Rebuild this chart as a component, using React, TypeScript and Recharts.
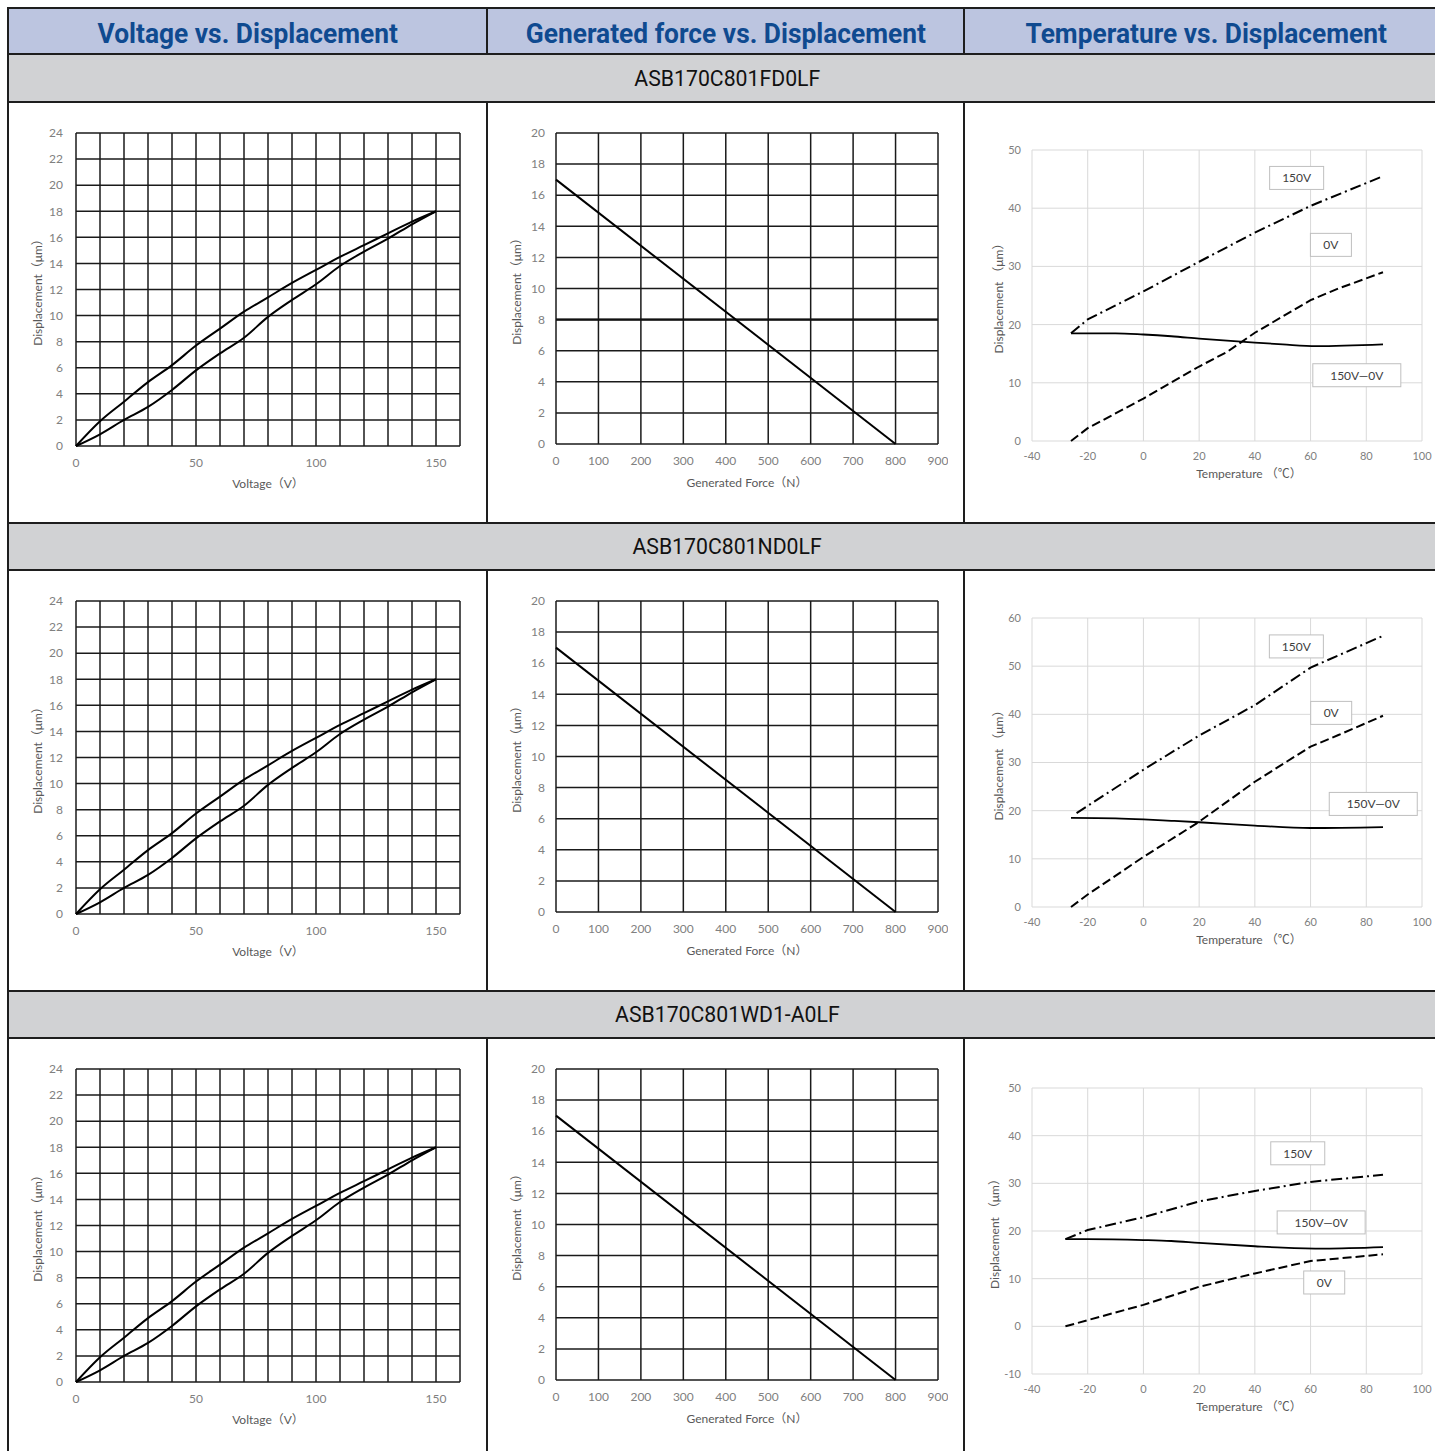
import React from 'react';
import { LineChart, Line, XAxis, YAxis, CartesianGrid, ReferenceDot, ReferenceLine } from 'recharts';

// ---------- text ----------
const columnTitles = ['Voltage vs. Displacement', 'Generated force vs. Displacement', 'Temperature vs. Displacement'];
const modelNames = ['ASB170C801FD0LF', 'ASB170C801ND0LF', 'ASB170C801WD1-A0LF'];

// ---------- Voltage vs. Displacement ----------
const voltageSteps = [0, 10, 20, 30, 40, 50, 60, 70, 80, 90, 100, 110, 120, 130, 140, 150];
const displacementDescending = [0, 1.9, 3.4, 4.9, 6.2, 7.7, 9.0, 10.3, 11.4, 12.5, 13.5, 14.5, 15.4, 16.3, 17.2, 18.0];
const displacementAscending = [0, 0.9, 2.0, 3.0, 4.3, 5.8, 7.1, 8.3, 9.9, 11.2, 12.4, 13.8, 14.9, 15.9, 17.0, 18.0];
const voltageTicks = [0, 10, 20, 30, 40, 50, 60, 70, 80, 90, 100, 110, 120, 130, 140, 150, 160];
const voltageLabeledTicks = [0, 50, 100, 150];
const voltageDispTicks = [0, 2, 4, 6, 8, 10, 12, 14, 16, 18, 20, 22, 24];

// ---------- Generated force vs. Displacement ----------
const forceValues = [0, 800];
const forceDisplacement = [17, 0];
const forceTicks = [0, 100, 200, 300, 400, 500, 600, 700, 800, 900];
const forceDispTicks = [0, 2, 4, 6, 8, 10, 12, 14, 16, 18, 20];
const forceHeavyGridRows = [true, false, false];

// ---------- Temperature vs. Displacement ----------
const temperatureTicks = [-40, -20, 0, 20, 40, 60, 80, 100];

// FD0LF
const fdTemp150V = [-26, -20, 0, 20, 40, 60, 86];
const fdDisp150V = [18.5, 20.9, 25.7, 30.8, 35.8, 40.4, 45.5];
const fdTemp0V = [-26, -20, 0, 20, 30, 40, 60, 70, 86];
const fdDisp0V = [0, 2.2, 7.3, 12.8, 15.3, 18.6, 24.2, 26.2, 29.0];
const fdTempDiff = [-26, -10, 0, 10, 20, 40, 50, 62, 86];
const fdDispDiff = [18.5, 18.5, 18.3, 18.0, 17.6, 16.9, 16.6, 16.3, 16.6];
const fdDispTicks = [0, 10, 20, 30, 40, 50];
const fdNotes = [
  { text: '150V', t: 55, d: 45.2 },
  { text: '0V', t: 67.3, d: 33.7 },
  { text: '150V—0V', t: 76.6, d: 11.3 },
];

// ND0LF
const ndTemp150V = [-24, -20, 0, 20, 40, 60, 86];
const ndDisp150V = [19.5, 21.0, 28.5, 35.6, 41.9, 49.7, 56.3];
const ndTemp0V = [-26, -20, 0, 20, 40, 60, 70, 86];
const ndDisp0V = [0, 2.6, 10.4, 17.7, 26.0, 33.3, 35.7, 39.7];
const ndTempDiff = [-26, -10, 0, 10, 20, 40, 60, 86];
const ndDispDiff = [18.5, 18.4, 18.2, 17.9, 17.6, 16.9, 16.4, 16.6];
const ndDispTicks = [0, 10, 20, 30, 40, 50, 60];
const ndNotes = [
  { text: '150V', t: 54.9, d: 54.1 },
  { text: '0V', t: 67.4, d: 40.3 },
  { text: '150V—0V', t: 82.5, d: 21.4 },
];

// WD1-A0LF
const wdTemp150V = [-28, -20, 0, 20, 40, 60, 86];
const wdDisp150V = [18.3, 20.2, 22.9, 26.2, 28.4, 30.3, 31.8];
const wdTemp0V = [-28, -20, 0, 20, 40, 60, 86];
const wdDisp0V = [0, 1.3, 4.5, 8.3, 11.1, 13.7, 15.1];
const wdTempDiff = [-28, -20, 0, 10, 20, 40, 50, 65, 86];
const wdDispDiff = [18.3, 18.3, 18.1, 17.9, 17.5, 16.8, 16.5, 16.3, 16.6];
const wdDispTicks = [-10, 0, 10, 20, 30, 40, 50];
const wdNotes = [
  { text: '150V', t: 55.4, d: 36.3 },
  { text: '150V—0V', t: 63.8, d: 21.8 },
  { text: '0V', t: 64.9, d: 9.2 },
];

// ---------- styles ----------
const FONT = "Lato, 'Noto Sans CJK JP', sans-serif";
const tickStyle = { fontSize: 12, fill: '#808080', fontFamily: FONT };
const tempTickStyle = { fontSize: 11, fill: '#808080', fontFamily: FONT };
const titleStyle: React.CSSProperties = { fontSize: 12, fill: '#595959', fontFamily: FONT };
const ROW_STEP = 468;

const zip = (ts: number[], ds: number[]) => ts.map((t, i) => ({ t, d: ds[i] }));

const xTitle = (text: string, fromBottom: number, dx = 0) => ({
  content: (p: any) => {
    const vb = p.viewBox || {};
    return (
      <text x={vb.x + vb.width / 2 + dx} y={vb.y + vb.height - fromBottom} textAnchor="middle" style={titleStyle}>
        {text}
      </text>
    );
  },
});

const yTitle = (text: string, fromLeft: number) => ({
  content: (p: any) => {
    const vb = p.viewBox || {};
    const x = vb.x + fromLeft;
    const y = vb.y + vb.height / 2;
    return (
      <text x={x} y={y} transform={`rotate(-90 ${x} ${y})`} textAnchor="middle" dominantBaseline="central" style={titleStyle}>
        {text}
      </text>
    );
  },
});

const noteWidths: Record<string, number> = { '150V': 54, '0V': 41, '150V—0V': 88 };

function NoteBox({ cx, cy, text }: { cx: number; cy: number; text: string }) {
  const w = noteWidths[text] || 60;
  const h = 23;
  return (
    <g>
      <rect x={cx - w / 2} y={cy - h / 2} width={w} height={h} fill="#fff" stroke="#bfbfbf" strokeWidth={1} />
      <text x={cx} y={cy} textAnchor="middle" dominantBaseline="central" style={{ fontSize: 12, fill: '#404040', fontFamily: FONT }}>
        {text}
      </text>
    </g>
  );
}

function VoltageChart({ row }: { row: number }) {
  const data = voltageSteps.map((v, i) => ({ v, desc: displacementDescending[i], asc: displacementAscending[i] }));
  return (
    <div style={{ position: 'absolute', left: 20, top: 118 + row * ROW_STEP }}>
      <LineChart width={450} height={378} data={data} margin={{ top: 15, right: 10, left: 0, bottom: 0 }}>
        <CartesianGrid stroke="#1a1a1a" strokeWidth={1.5} />
        <XAxis
          dataKey="v"
          type="number"
          domain={[0, 160]}
          ticks={voltageTicks}
          interval={0}
          tickFormatter={(v: number) => (voltageLabeledTicks.includes(v) ? String(v) : '')}
          axisLine={false}
          tickLine={false}
          tickSize={0}
          tickMargin={12}
          height={50}
          tick={tickStyle}
          label={xTitle('Voltage（V）', 8)}
        />
        <YAxis
          type="number"
          domain={[0, 24]}
          ticks={voltageDispTicks}
          interval={0}
          width={56}
          axisLine={false}
          tickLine={false}
          tickSize={0}
          tickMargin={13}
          tick={tickStyle}
          label={yTitle('Displacement（μm）', 17)}
        />
        <Line type="monotone" dataKey="desc" stroke="#000" strokeWidth={2} dot={false} isAnimationActive={false} />
        <Line type="monotone" dataKey="asc" stroke="#000" strokeWidth={2} dot={false} isAnimationActive={false} />
      </LineChart>
    </div>
  );
}

function ForceChart({ row }: { row: number }) {
  const data = forceValues.map((f, i) => ({ f, d: forceDisplacement[i] }));
  return (
    <div style={{ position: 'absolute', left: 500, top: 118 + row * ROW_STEP }}>
      <LineChart width={448} height={376} data={data} margin={{ top: 15, right: 10, left: 0, bottom: 0 }}>
        <CartesianGrid stroke="#1a1a1a" strokeWidth={1.5} />
        {forceHeavyGridRows[row] && <ReferenceLine y={8} stroke="#111" strokeWidth={2.4} />}
        <XAxis
          dataKey="f"
          type="number"
          domain={[0, 900]}
          ticks={forceTicks}
          interval={0}
          axisLine={false}
          tickLine={false}
          tickSize={0}
          tickMargin={12}
          height={50}
          tick={tickStyle}
          label={xTitle('Generated Force（N）', 7)}
        />
        <YAxis
          type="number"
          domain={[0, 20]}
          ticks={forceDispTicks}
          interval={0}
          width={56}
          axisLine={false}
          tickLine={false}
          tickSize={0}
          tickMargin={11}
          tick={tickStyle}
          label={yTitle('Displacement（μm）', 16)}
        />
        <Line dataKey="d" stroke="#000" strokeWidth={2} dot={false} isAnimationActive={false} />
      </LineChart>
    </div>
  );
}

type TempProps = {
  top: number;
  height: number;
  yTicks: number[];
  s150: { t: number; d: number }[];
  s0: { t: number; d: number }[];
  sDiff: { t: number; d: number }[];
  notes: { text: string; t: number; d: number }[];
  yLabelX: number;
};

function TempChart({ top, height, yTicks, s150, s0, sDiff, notes, yLabelX }: TempProps) {
  return (
    <div style={{ position: 'absolute', left: 976, top }}>
      <LineChart width={456} height={height} margin={{ top: 15, right: 10, left: 0, bottom: 0 }}>
        <CartesianGrid stroke="#d9d9d9" strokeWidth={1} />
        <XAxis
          dataKey="t"
          type="number"
          domain={[-40, 100]}
          ticks={temperatureTicks}
          interval={0}
          axisLine={false}
          tickLine={false}
          tickSize={0}
          tickMargin={11}
          height={50}
          tick={tempTickStyle}
          allowDuplicatedCategory={false}
          label={xTitle('Temperature （℃）', 13, 22)}
        />
        <YAxis
          dataKey="d"
          type="number"
          domain={[yTicks[0], yTicks[yTicks.length - 1]]}
          ticks={yTicks}
          interval={0}
          width={56}
          axisLine={false}
          tickLine={false}
          tickSize={0}
          tickMargin={11}
          tick={tempTickStyle}
          label={yTitle('Displacement （μm）', yLabelX)}
        />
        <Line data={s150} dataKey="d" stroke="#000" strokeWidth={2} strokeDasharray="11 4 2 4" dot={false} isAnimationActive={false} />
        <Line data={s0} dataKey="d" stroke="#000" strokeWidth={2} strokeDasharray="9 4" dot={false} isAnimationActive={false} />
        <Line type="monotone" data={sDiff} dataKey="d" stroke="#000" strokeWidth={1.8} dot={false} isAnimationActive={false} />
        {notes.map((n) => (
          <ReferenceDot
            key={n.text}
            x={n.t}
            y={n.d}
            r={0}
            ifOverflow="visible"
            shape={(p: any) => <NoteBox cx={p.cx} cy={p.cy} text={n.text} />}
          />
        ))}
      </LineChart>
    </div>
  );
}

const BORDER = '#1e1e1e';
const hLines = [7, 53, 101, 522, 569, 990, 1037];
const grayTops = [55, 524, 992];
const colBorders = [7, 486, 963];
const chartBands = [
  [103, 522],
  [571, 990],
  [1039, 1451],
];
const headerCols = [
  [9, 486],
  [488, 963],
  [965, 1447],
];

export default function App() {
  return (
    <div style={{ position: 'absolute', left: 0, top: 0, width: 1435, height: 1451, overflow: 'hidden', background: '#fff' }}>
      {/* header band */}
      <div style={{ position: 'absolute', left: 9, top: 9, width: 1440, height: 44, background: '#bcc5e0' }} />
      {headerCols.map(([a, b], i) => (
        <div
          key={'h' + i}
          style={{
            position: 'absolute',
            left: a,
            top: 11,
            width: b - a,
            height: 44,
            display: 'flex',
            alignItems: 'center',
            justifyContent: 'center',
          }}
        >
          <span
            style={{
              fontFamily: 'Roboto, sans-serif',
              fontWeight: 700,
              fontSize: 28,
              color: '#0f4a90',
              whiteSpace: 'nowrap',
              display: 'inline-block',
              transform: 'scaleX(0.94)',
            }}
          >
            {columnTitles[i]}
          </span>
        </div>
      ))}
      {/* gray rows */}
      {grayTops.map((t, i) => (
        <div
          key={'g' + i}
          style={{
            position: 'absolute',
            left: 9,
            top: t,
            width: 1436,
            height: hLines[[2, 4, 6][i]] - t,
            background: '#d1d2d4',
            display: 'flex',
            alignItems: 'center',
            justifyContent: 'center',
          }}
        >
          <span
            style={{
              fontFamily: 'Roboto, sans-serif',
              fontSize: 22,
              color: '#111',
              whiteSpace: 'nowrap',
              display: 'inline-block',
              transform: 'scaleX(0.965)',
            }}
          >
            {modelNames[i]}
          </span>
        </div>
      ))}
      {/* horizontal borders */}
      {hLines.map((y, i) => (
        <div key={'l' + i} style={{ position: 'absolute', left: 7, top: y, width: 1442, height: 2, background: BORDER }} />
      ))}
      {/* vertical borders: header band */}
      {colBorders.map((x, i) => (
        <div key={'vh' + i} style={{ position: 'absolute', left: x, top: 7, width: 2, height: 48, background: BORDER }} />
      ))}
      {/* vertical borders: chart rows */}
      {chartBands.map(([a, b], r) =>
        colBorders.map((x, i) => (
          <div key={'v' + r + i} style={{ position: 'absolute', left: x, top: a, width: 2, height: b - a, background: BORDER }} />
        ))
      )}
      <div style={{ position: 'absolute', left: 7, top: 53, width: 2, height: 1398, background: BORDER }} />

      {[0, 1, 2].map((r) => (
        <React.Fragment key={'c' + r}>
          <VoltageChart row={r} />
          <ForceChart row={r} />
        </React.Fragment>
      ))}
      <TempChart
        top={135}
        height={356}
        yTicks={fdDispTicks}
        s150={zip(fdTemp150V, fdDisp150V)}
        s0={zip(fdTemp0V, fdDisp0V)}
        sDiff={zip(fdTempDiff, fdDispDiff)}
        notes={fdNotes}
        yLabelX={22}
      />
      <TempChart
        top={603}
        height={354}
        yTicks={ndDispTicks}
        s150={zip(ndTemp150V, ndDisp150V)}
        s0={zip(ndTemp0V, ndDisp0V)}
        sDiff={zip(ndTempDiff, ndDispDiff)}
        notes={ndNotes}
        yLabelX={22}
      />
      <TempChart
        top={1073}
        height={351}
        yTicks={wdDispTicks}
        s150={zip(wdTemp150V, wdDisp150V)}
        s0={zip(wdTemp0V, wdDisp0V)}
        sDiff={zip(wdTempDiff, wdDispDiff)}
        notes={wdNotes}
        yLabelX={18}
      />
    </div>
  );
}
